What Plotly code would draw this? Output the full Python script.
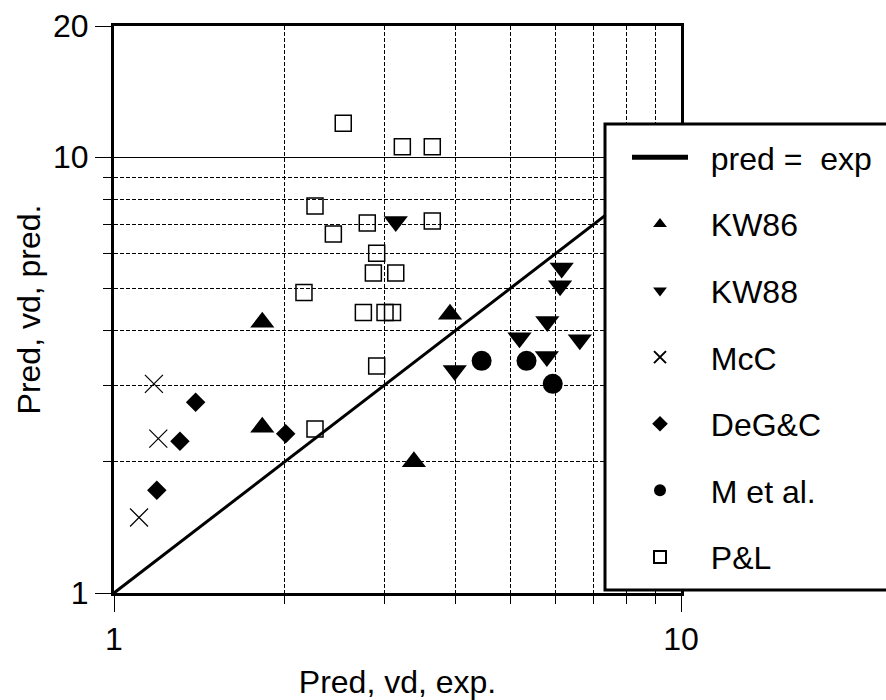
import plotly.graph_objects as go

# Line of perfect agreement
ident_x = [1, 10]
ident_y = [1, 10]

# Predicted vs. experimental values per data source
kw86_x = [1.826, 1.826, 3.914, 3.38]
kw86_y = [4.18, 2.40, 4.36, 2.00]

kw88_x = [3.14, 6.16, 6.12, 5.81, 5.19, 6.63, 5.80, 3.99]
kw88_y = [7.12, 5.57, 5.07, 4.20, 3.85, 3.81, 3.49, 3.24]

mcc_x = [1.176, 1.197, 1.107]
mcc_y = [3.02, 2.26, 1.49]

degc_x = [2.008, 1.393, 1.307, 1.19]
degc_y = [2.32, 2.74, 2.23, 1.72]

met_x = [4.45, 5.34, 5.94]
met_y = [3.41, 3.41, 3.02]

pl_x = [2.537, 3.225, 3.642, 2.262, 2.437, 2.797, 3.642, 2.906,
        2.867, 3.14, 2.163, 2.753, 3.006, 3.099, 2.906, 2.262]
pl_y = [11.97, 10.57, 10.57, 7.73, 6.66, 7.06, 7.14, 6.02,
        5.42, 5.42, 4.89, 4.40, 4.40, 4.40, 3.32, 2.38]

x_major = [1, 10]
y_major = [1, 10, 20]
minor_vals = [2, 3, 4, 5, 6, 7, 8, 9]

FONT = "Liberation Sans, Arial, sans-serif"
PAD = "\u00a0\u00a0"  # extra room between legend symbol and label

fig = go.Figure()

fig.add_trace(go.Scatter(x=ident_x, y=ident_y, mode="lines", name=PAD + "pred =\u00a0 exp",
                         legendgroup="g0", line=dict(color="black", width=3)))
fig.add_trace(go.Scatter(x=kw86_x, y=kw86_y, mode="markers", name=PAD + "KW86", legendgroup="g1",
                         marker=dict(symbol="triangle-up", size=21, color="black")))
fig.add_trace(go.Scatter(x=kw88_x, y=kw88_y, mode="markers", name=PAD + "KW88", legendgroup="g2",
                         marker=dict(symbol="triangle-down", size=21, color="black")))
fig.add_trace(go.Scatter(x=mcc_x, y=mcc_y, mode="markers", name=PAD + "McC", legendgroup="g3",
                         marker=dict(symbol="x-thin", size=18, color="black",
                                     line=dict(color="black", width=1.2))))
fig.add_trace(go.Scatter(x=degc_x, y=degc_y, mode="markers", name=PAD + "DeG&C", legendgroup="g4",
                         marker=dict(symbol="diamond", size=15, color="black")))
fig.add_trace(go.Scatter(x=met_x, y=met_y, mode="markers", name=PAD + "M et al.", legendgroup="g5",
                         marker=dict(symbol="circle", size=20, color="black")))
fig.add_trace(go.Scatter(x=pl_x, y=pl_y, mode="markers", name=PAD + "P&L", legendgroup="g6",
                         marker=dict(symbol="square-open", size=16, color="black",
                                     line=dict(color="black", width=1.5))))

axis_common = dict(
    type="log",
    showline=True, linecolor="black", linewidth=3, mirror=True,
    ticks="outside", ticklen=16, tickwidth=1.2, tickcolor="black",
    showgrid=True, gridcolor="black", gridwidth=1,
    zeroline=False,
    tickfont=dict(family=FONT, size=32, color="black"),
    minor=dict(tickmode="array", tickvals=minor_vals, ticks="outside", ticklen=8,
               tickwidth=1, tickcolor="black", showgrid=True, gridcolor="black",
               gridwidth=1, griddash="4px,2px"),
)

fig.update_xaxes(**axis_common, range=[0, 1], tickmode="array", tickvals=x_major,
                 ticktext=[str(v) for v in x_major],
                 title=dict(text="Pred, vd, exp.", font=dict(family=FONT, size=32, color="black"),
                            standoff=26))
fig.update_yaxes(**axis_common, range=[0, 1.30103], tickmode="array", tickvals=y_major,
                 ticktext=[str(v) for v in y_major],
                 title=dict(text="Pred, vd, pred.", font=dict(family=FONT, size=32, color="black"),
                            standoff=3))

# Legend frame: white box with heavy border, running off the right edge
fig.add_shape(type="rect", xref="paper", yref="paper", layer="above",
              x0=(605 - 114) / 567, x1=(900 - 114) / 567,
              y0=(593 - 590) / 567, y1=(593 - 124) / 567,
              fillcolor="white", line=dict(color="black", width=3))

fig.update_layout(
    width=886, height=700,
    margin=dict(l=114, r=205, t=26, b=107, autoexpand=False),
    paper_bgcolor="white", plot_bgcolor="white",
    font=dict(family=FONT, color="black"),
    showlegend=True,
    legend=dict(x=(627 - 114) / 567, y=(593 - 130) / 567, xanchor="left", yanchor="top",
                font=dict(family=FONT, size=32, color="black"),
                bgcolor="rgba(0,0,0,0)", borderwidth=0,
                itemsizing="constant", itemwidth=56, tracegroupgap=22),
)

fig.write_html("out.html")
